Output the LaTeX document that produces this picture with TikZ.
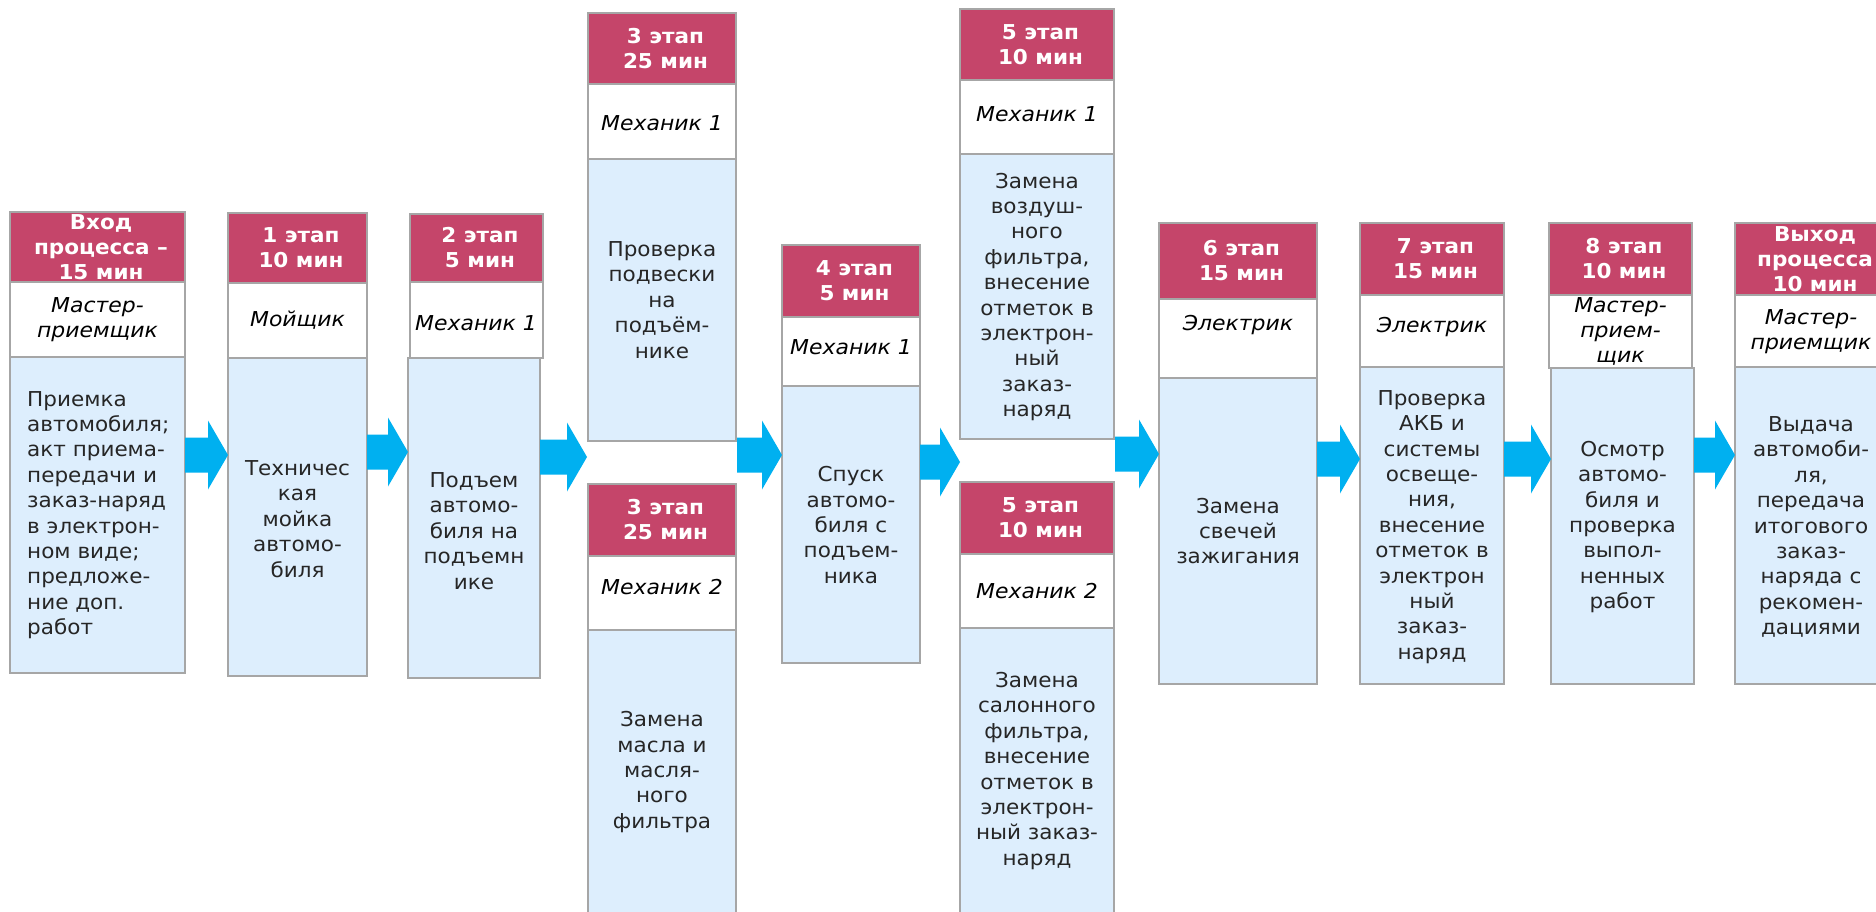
\documentclass[tikz,border=0pt]{standalone}
\usepackage{fontspec}
\setmainfont{DejaVu Sans}[FakeStretch=1.05, ItalicFeatures={FakeStretch=1.07}]
\usetikzlibrary{calc}

\definecolor{stagered}{HTML}{C5456A}
\definecolor{cellgray}{HTML}{A6A6A6}
\definecolor{bodyblue}{HTML}{DDEEFD}
\definecolor{flowblue}{HTML}{00B0F0}
\definecolor{inktext}{HTML}{262626}

\tikzset{
  cellbase/.style={rectangle, draw=cellgray, line width=2pt, inner sep=0pt, outer sep=0pt},
  hdrcell/.style={cellbase, fill=stagered},
  rolecell/.style={cellbase, fill=white},
  bodycell/.style={cellbase, fill=bodyblue},
  hdrtxt/.style={text=white, align=center, inner sep=0pt,
    font=\fontsize{20.5}{25}\selectfont\bfseries},
  roletxt/.style={text=black, align=center, inner sep=0pt,
    font=\fontsize{20.5}{25}\selectfont\itshape},
  bodytxt/.style={text=inktext, align=center, inner sep=0pt,
    font=\fontsize{20.5}{25.4}\selectfont},
  flowfill/.style={fill=flowblue, draw=none},
}

% one rectangular cell of a stage column: name, style, x1, y1, x2, y2 (y grows downwards)
\newcommand{\stagecell}[6]{%
  \node[#2, anchor=north west,
        minimum width={(#5-#3)*1pt}, minimum height={(#6-#4)*1pt}] (#1) at (#3,#4) {};}

% block arrow from a start point to its tip, both at the same height
\newcommand{\stagearrow}[2]{%
  \fill[flowfill] let \p1=(#1), \p2=(#2) in
    (\x1,\y2+17.5pt) -- (\x2-20pt,\y2+17.5pt) -- (\x2-20pt,\y2+34.5pt) -- (\x2,\y2)
    -- (\x2-20pt,\y2-34.5pt) -- (\x2-20pt,\y2-17.5pt) -- (\x1,\y2-17.5pt) -- cycle;}

\begin{document}
\begin{tikzpicture}[x=1pt, y=-1pt]
  \path[use as bounding box, fill=white] (0,0) rectangle (1876,912);
  \clip (0,0) rectangle (1876,912);

  % --- entry: vehicle reception
  \stagecell{h0}{hdrcell}{10}{212}{185}{282}
  \stagecell{r0}{rolecell}{10}{282}{185}{357}
  \stagecell{d0}{bodycell}{10}{357}{185}{673}
  \node[hdrtxt] (th0) at (101,247) {Вход\\процесса –\\15 мин};
  \node[roletxt] (tr0) at (97.5,320) {Мастер-\\приемщик};
  \node[bodytxt, align=left, anchor=west] (tb0) at (27,515)
    {Приемка\\автомобиля;\\акт приема-\\передачи и\\заказ-наряд\\в электрон-\\ном виде;\\предложе-\\ние доп.\\работ};

  % --- stage 1
  \stagecell{h1}{hdrcell}{228}{213}{367}{283}
  \stagecell{r1}{rolecell}{228}{283}{367}{358}
  \stagecell{d1}{bodycell}{228}{358}{367}{676}
  \node[hdrtxt] (th1) at (301,248) {1 этап\\10 мин};
  \node[roletxt] (tr1) at (297.5,320.5) {Мойщик};
  \node[bodytxt] (tb1) at (297.5,519) {Техничес\\кая\\мойка\\автомо-\\биля};

  % --- stage 2
  \stagecell{h2}{hdrcell}{410}{214}{543}{282}
  \stagecell{r2}{rolecell}{410}{282}{543}{358}
  \stagecell{d2}{bodycell}{408}{358}{540}{678}
  \node[hdrtxt] (th2) at (480,248) {2 этап\\5 мин};
  \node[roletxt] (tr2) at (476,323) {Механик 1};
  \node[bodytxt] (tb2) at (474,531) {Подъем\\автомо-\\биля на\\подъемн\\ике};

  % --- stage 3, mechanic 1
  \stagecell{h3a}{hdrcell}{588}{13}{736}{84}
  \stagecell{r3a}{rolecell}{588}{84}{736}{159}
  \stagecell{d3a}{bodycell}{588}{159}{736}{441}
  \node[hdrtxt] (th3a) at (665.5,48.5) {3 этап\\25 мин};
  \node[roletxt] (tr3a) at (662,123) {Механик 1};
  \node[bodytxt] (tb3a) at (662,300) {Проверка\\подвески\\на\\подъём-\\нике};

  % --- stage 3, mechanic 2
  \stagecell{h3b}{hdrcell}{588}{484}{736}{556}
  \stagecell{r3b}{rolecell}{588}{556}{736}{630}
  \stagecell{d3b}{bodycell}{588}{630}{736}{930}
  \node[hdrtxt] (th3b) at (665.5,520) {3 этап\\25 мин};
  \node[roletxt] (tr3b) at (662,587.5) {Механик 2};
  \node[bodytxt] (tb3b) at (662,772) {Замена\\масла и\\масля-\\ного\\фильтра};

  % --- stage 4
  \stagecell{h4}{hdrcell}{782}{245}{920}{317}
  \stagecell{r4}{rolecell}{782}{317}{920}{386}
  \stagecell{d4}{bodycell}{782}{386}{920}{663}
  \node[hdrtxt] (th4) at (854.5,281) {4 этап\\5 мин};
  \node[roletxt] (tr4) at (851,347.5) {Механик 1};
  \node[bodytxt] (tb4) at (851,525) {Спуск\\автомо-\\биля с\\подъем-\\ника};

  % --- stage 5, mechanic 1
  \stagecell{h5a}{hdrcell}{960}{9}{1114}{80}
  \stagecell{r5a}{rolecell}{960}{80}{1114}{154}
  \stagecell{d5a}{bodycell}{960}{154}{1114}{439}
  \node[hdrtxt] (th5a) at (1040.5,44.5) {5 этап\\10 мин};
  \node[roletxt] (tr5a) at (1037,114.5) {Механик 1};
  \node[bodytxt] (tb5a) at (1037,297)
    {Замена\\воздуш-\\ного\\фильтра,\\внесение\\отметок в\\электрон-\\ный\\заказ-\\наряд};

  % --- stage 5, mechanic 2
  \stagecell{h5b}{hdrcell}{960}{482}{1114}{554}
  \stagecell{r5b}{rolecell}{960}{554}{1114}{628}
  \stagecell{d5b}{bodycell}{960}{628}{1114}{930}
  \node[hdrtxt] (th5b) at (1040.5,518) {5 этап\\10 мин};
  \node[roletxt] (tr5b) at (1037,591.5) {Механик 2};
  \node[bodytxt] (tb5b) at (1037,771)
    {Замена\\салонного\\фильтра,\\внесение\\отметок в\\электрон-\\ный заказ-\\наряд};

  % --- stage 6
  \stagecell{h6}{hdrcell}{1159}{223}{1317}{299}
  \stagecell{r6}{rolecell}{1159}{299}{1317}{378}
  \stagecell{d6}{bodycell}{1159}{378}{1317}{684}
  \node[hdrtxt] (th6) at (1241.5,261) {6 этап\\15 мин};
  \node[roletxt] (tr6) at (1238,325) {Электрик};
  \node[bodytxt] (tb6) at (1238,531) {Замена\\свечей\\зажигания};

  % --- stage 7
  \stagecell{h7}{hdrcell}{1360}{223}{1504}{295}
  \stagecell{r7}{rolecell}{1360}{295}{1504}{367}
  \stagecell{d7}{bodycell}{1360}{367}{1504}{684}
  \node[hdrtxt] (th7) at (1435.5,259) {7 этап\\15 мин};
  \node[roletxt] (tr7) at (1432,327.5) {Электрик};
  \node[bodytxt] (tb7) at (1432,527)
    {Проверка\\АКБ и\\системы\\освеще-\\ния,\\внесение\\отметок в\\электрон\\ный\\заказ-\\наряд};

  % --- stage 8
  \stagecell{h8}{hdrcell}{1549}{223}{1692}{295}
  \stagecell{r8}{rolecell}{1549}{295}{1692}{368}
  \stagecell{d8}{bodycell}{1551}{368}{1694}{684}
  \node[hdrtxt] (th8) at (1624,259) {8 этап\\10 мин};
  \node[roletxt] (tr8) at (1620.5,331) {Мастер-\\прием-\\щик};
  \node[bodytxt] (tb8) at (1622.5,527)
    {Осмотр\\автомо-\\биля и\\проверка\\выпол-\\ненных\\работ};

  % --- exit: vehicle hand-over
  \stagecell{h9}{hdrcell}{1735}{223}{1887}{295}
  \stagecell{r9}{rolecell}{1735}{295}{1887}{367}
  \stagecell{d9}{bodycell}{1735}{367}{1887}{684}
  \node[hdrtxt] (th9) at (1815,259) {Выход\\процесса\\10 мин};
  \node[roletxt] (tr9) at (1811,332) {Мастер-\\приемщик};
  \node[bodytxt] (tb9) at (1811,527)
    {Выдача\\автомоби-\\ля,\\передача\\итогового\\заказ-\\наряда с\\рекомен-\\дациями};

  % --- arrow levels and the free ends at the split stages
  \coordinate (a01) at (0,455);
  \coordinate (a12) at (0,452);
  \coordinate (a67) at (0,459);
  \coordinate (a89) at (0,455);
  \coordinate (in3) at (587,457);
  \coordinate (out3) at (737,455);
  \coordinate (in5) at (960,462);
  \coordinate (out5) at (1115,454);

  % --- flow arrows
  \stagearrow{d0.east |- a01}{d1.west |- a01}
  \stagearrow{d1.east |- a12}{d2.west |- a12}
  \stagearrow{d2.east |- in3}{in3}
  \stagearrow{out3}{d4.west |- out3}
  \stagearrow{d4.east |- in5}{in5}
  \stagearrow{out5}{d6.west |- out5}
  \stagearrow{d6.east |- a67}{d7.west |- a67}
  \stagearrow{d7.east |- a67}{d8.west |- a67}
  \stagearrow{d8.east |- a89}{d9.west |- a89}
\end{tikzpicture}
\end{document}
